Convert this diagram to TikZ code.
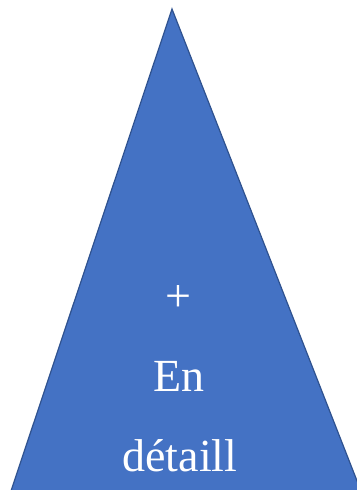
\documentclass[tikz,border=0pt]{standalone}
\usepackage{fontspec}
\setmainfont{Liberation Serif}
\definecolor{bleuTri}{HTML}{4472C4}
\definecolor{bordTri}{HTML}{2F528F}
\begin{document}
\begin{tikzpicture}[x=0.75pt,y=-0.75pt]
			% Styles (MODIFIABLES)
			\tikzstyle{triangle}=[fill=bleuTri,draw=bordTri,line width=0.9pt,line join=miter]
			\tikzstyle{texte}=[text=white,inner sep=0pt,anchor=base,font=\fontsize{34.5pt}{40pt}\selectfont]
			% Cadre
			\useasboundingbox (0,0) rectangle (357,490);
			\clip (0,0) rectangle (357,490);
			% Sommets
			\coordinate (S) at (172,9);
			\coordinate (G) at (11,491);
			\coordinate (D) at (361,491);
			\draw[triangle] (S)--(D)--(G)--cycle;
			% Textes
			\node[texte] (plus) at (178,311) {+};
			\node[texte] (en) at (179,391) {En};
			\node[texte] (detail) at (180,471) {détaill};
		\end{tikzpicture}
\end{document}
